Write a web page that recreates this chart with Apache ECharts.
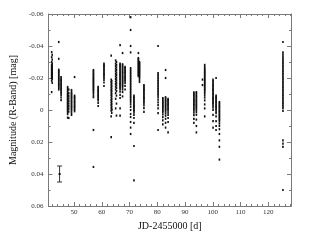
<!DOCTYPE html>
<html><head><meta charset="utf-8">
<script src="https://cdn.jsdelivr.net/npm/echarts@6/dist/echarts.min.js"></script>
<style>html,body{margin:0;padding:0;background:#fff}#c{width:314px;height:243px}</style>
</head><body><div id="c"></div>
<script>
// Each entry: [JD-2455000, [magnitudes]]
const nights41to51 = [
  [41.95, [-0.0362,-0.0330,-0.0300,-0.0282,-0.0270,-0.0260,-0.0250,-0.0240,-0.0230,-0.0220,-0.0210,-0.0200,-0.0183,-0.0112]],
  [42.15, [-0.0345,-0.0315,-0.0290,-0.0276,-0.0265,-0.0255,-0.0245,-0.0235,-0.0225,-0.0215,-0.0205,-0.0193,-0.0170]],
  [44.5,  [-0.0425,-0.0320,-0.0252,-0.0245,-0.0238,-0.0230,-0.0222,-0.0215,-0.0208,-0.0200,-0.0192,-0.0185,-0.0178,-0.0170,-0.0162,-0.0155,-0.0147,-0.0138,-0.0128]],
  [45.35, [-0.0205,-0.0196,-0.0188,-0.0180,-0.0172,-0.0164,-0.0156,-0.0148,-0.0140,-0.0132,-0.0124,-0.0115,-0.0105,-0.0093,-0.0078,-0.0062]],
  [47.7,  [-0.0144,-0.0132,-0.0120,-0.0110,-0.0100,-0.0092,-0.0084,-0.0076,-0.0068,-0.0060,-0.0052,-0.0044,-0.0036,-0.0028,-0.0020,-0.0012,-0.0004,0.0004,0.0014,0.0026,0.0048]],
  [48.1,  [-0.0128,-0.0105,-0.0088,-0.0072,-0.0056,-0.0040,-0.0024,-0.0008,0.0010,0.0050]],
  [49.1,  [-0.0125,-0.0115,-0.0106,-0.0098,-0.0090,-0.0082,-0.0074,-0.0066,-0.0058,-0.0050,-0.0042,-0.0034,-0.0026,-0.0018,-0.0010,-0.0002,0.0008,0.0020,0.0031]],
  [50.2,  [-0.0206,-0.0090,-0.0082,-0.0074,-0.0066,-0.0058,-0.0050,-0.0042,-0.0034,-0.0026,-0.0018,-0.0010,-0.0002,0.0008]]
];
const nights56to61 = [
  [57.0,  [-0.0250,-0.0242,-0.0234,-0.0226,-0.0218,-0.0210,-0.0203,-0.0196,-0.0189,-0.0182,-0.0175,-0.0168,-0.0161,-0.0154,-0.0147,-0.0140,-0.0132,-0.0124,-0.0115,-0.0105,-0.0092,-0.0080,0.0125,0.0356]],
  [58.7,  [-0.0144,-0.0135,-0.0127,-0.0119,-0.0111,-0.0103,-0.0095,-0.0087,-0.0079,-0.0070,-0.0060,-0.0045,-0.0025]],
  [60.8,  [-0.0290,-0.0282,-0.0274,-0.0266,-0.0258,-0.0250,-0.0242,-0.0234,-0.0226,-0.0218,-0.0210,-0.0200,-0.0188,-0.0172,-0.0150]]
];
const nights63to69 = [
  [63.4,  [-0.0340,-0.0190,-0.0174,-0.0158,-0.0142,-0.0126,-0.0110,-0.0094,-0.0078,-0.0062,-0.0046,-0.0030,-0.0014,0.0004,0.0040,0.0170]],
  [63.6,  [-0.0182,-0.0166,-0.0150,-0.0134,-0.0118,-0.0102,-0.0086,-0.0070,-0.0054,-0.0038,-0.0022,-0.0006,0.0018,0.0000]],
  [65.0,  [-0.0310,-0.0290,-0.0274,-0.0258,-0.0242,-0.0226,-0.0210,-0.0194,-0.0178,-0.0162,-0.0146,-0.0128,-0.0105,-0.0070,-0.0010]],
  [65.3,  [-0.0300,-0.0282,-0.0266,-0.0250,-0.0234,-0.0218,-0.0202,-0.0186,-0.0170,-0.0154,-0.0138,-0.0118,-0.0090,-0.0040,0.0035]],
  [66.6,  [-0.0406,-0.0290,-0.0282,-0.0274,-0.0266,-0.0258,-0.0250,-0.0242,-0.0234,-0.0226,-0.0218,-0.0210,-0.0202,-0.0194,-0.0186,-0.0178,-0.0170,-0.0162,-0.0154,-0.0146,-0.0138,-0.0128,-0.0115,-0.0095,-0.0075,-0.0010,0.0035]],
  [67.5,  [-0.0356,-0.0286,-0.0278,-0.0270,-0.0262,-0.0254,-0.0246,-0.0238,-0.0230,-0.0222,-0.0214,-0.0206,-0.0198,-0.0190,-0.0182,-0.0174,-0.0166,-0.0158,-0.0150,-0.0140,-0.0128,-0.0112,-0.0085]],
  [68.4,  [-0.0270,-0.0262,-0.0254,-0.0246,-0.0238,-0.0230,-0.0222,-0.0214,-0.0206,-0.0198,-0.0190,-0.0180,-0.0168,-0.0150,-0.0128]]
];
const nights70to76 = [
  [70.4,  [-0.0580,-0.0500,-0.0400,-0.0360,-0.0262,-0.0252,-0.0242,-0.0232,-0.0222,-0.0212,-0.0202,-0.0192,-0.0182,-0.0172,-0.0162,-0.0152,-0.0142,-0.0132,-0.0122,-0.0112,-0.0102,-0.0092,-0.0082,-0.0072,-0.0062,-0.0050,-0.0036,-0.0020,0.0000,0.0025,0.0044,0.0075,0.0110,0.0150]],
  [71.6,  [-0.0090,-0.0082,-0.0074,-0.0066,-0.0058,-0.0050,-0.0042,-0.0034,-0.0026,-0.0018,-0.0010,-0.0002,0.0006,0.0016,0.0030,0.0050,0.0080,0.0225,0.0440]],
  [73.2,  [-0.0356,-0.0325,-0.0318,-0.0311,-0.0304,-0.0297,-0.0290,-0.0283,-0.0276,-0.0269,-0.0262,-0.0255,-0.0248,-0.0241,-0.0234,-0.0227,-0.0220,-0.0212]],
  [73.6,  [-0.0300,-0.0293,-0.0286,-0.0279,-0.0272,-0.0265,-0.0258,-0.0251,-0.0244,-0.0237,-0.0230,-0.0223,-0.0216,-0.0209,-0.0200,-0.0188,-0.0175]],
  [75.2,  [-0.0156,-0.0148,-0.0140,-0.0132,-0.0124,-0.0116,-0.0108,-0.0100,-0.0092,-0.0084,-0.0076,-0.0068,-0.0060,-0.0050,-0.0040,-0.0028,-0.0012,0.0012]]
];
const nights80to85 = [
  [80.3,  [-0.0400,-0.0230,-0.0220,-0.0210,-0.0200,-0.0190,-0.0180,-0.0170,-0.0160,-0.0150,-0.0140,-0.0130,-0.0120,-0.0110,-0.0100,-0.0090,-0.0078,-0.0064,-0.0048,-0.0030,-0.0010,0.0020,0.0125]],
  [82.0,  [-0.0075,-0.0067,-0.0059,-0.0051,-0.0043,-0.0035,-0.0027,-0.0019,-0.0011,-0.0003,0.0005,0.0015,0.0028,0.0045,0.0065,0.0090]],
  [83.0,  [-0.0250,-0.0200,-0.0080,-0.0072,-0.0064,-0.0056,-0.0048,-0.0040,-0.0032,-0.0024,-0.0016,-0.0008,0.0000,0.0010,0.0022,0.0036,0.0055,0.0080,0.0110]],
  [83.9,  [-0.0070,-0.0062,-0.0054,-0.0046,-0.0038,-0.0030,-0.0022,-0.0014,-0.0006,0.0004,0.0016,0.0030,0.0050,0.0075,0.0140]]
];
const nights92to103 = [
  [93.2,  [-0.0110,-0.0102,-0.0094,-0.0086,-0.0078,-0.0070,-0.0062,-0.0054,-0.0046,-0.0038,-0.0030,-0.0022,-0.0014,-0.0006,0.0004,0.0016,0.0032,0.0055,0.0080]],
  [94.1,  [-0.0112,-0.0104,-0.0096,-0.0088,-0.0080,-0.0072,-0.0064,-0.0056,-0.0048,-0.0040,-0.0032,-0.0024,-0.0016,-0.0008,0.0002,0.0014,0.0030,0.0060,0.0100,0.0140]],
  [96.3,  [-0.0190,-0.0156]],
  [97.1,  [-0.0282,-0.0270,-0.0260,-0.0252,-0.0245,-0.0238,-0.0231,-0.0224,-0.0217,-0.0210,-0.0203,-0.0196,-0.0189,-0.0182,-0.0175,-0.0168,-0.0161,-0.0154,-0.0147,-0.0140,-0.0132,-0.0124,-0.0115,-0.0105,-0.0092,-0.0078,-0.0060,-0.0035,-0.0010,0.0040]],
  [100.1, [-0.0190,-0.0180,-0.0172,-0.0164,-0.0156,-0.0148,-0.0140,-0.0132,-0.0124,-0.0116,-0.0108,-0.0100,-0.0092,-0.0084,-0.0076,-0.0068,-0.0060,-0.0052,-0.0044,-0.0036,-0.0026,-0.0014,0.0000,0.0030,0.0070,0.0110]],
  [101.2, [-0.0200,-0.0090,-0.0082,-0.0074,-0.0066,-0.0058,-0.0050,-0.0042,-0.0034,-0.0026,-0.0018,-0.0010,-0.0002,0.0008,0.0020,0.0040,0.0070,0.0100,0.0125]],
  [102.4, [-0.0050,-0.0042,-0.0034,-0.0026,-0.0018,-0.0010,-0.0002,0.0006,0.0014,0.0022,0.0030,0.0038,0.0046,0.0054,0.0062,0.0072,0.0085,0.0100,0.0120,0.0150,0.0190,0.0230,0.0310]]
];
const nights125 = [
  [125.3, [-0.0425,-0.0360,-0.0348,-0.0336,-0.0324,-0.0314,-0.0304,-0.0294,-0.0284,-0.0274,-0.0264,-0.0254,-0.0244,-0.0234,-0.0224,-0.0214,-0.0204,-0.0194,-0.0184,-0.0174,-0.0164,-0.0154,-0.0144,-0.0134,-0.0124,-0.0114,-0.0104,-0.0094,-0.0084,-0.0074,-0.0064,-0.0054,-0.0044,-0.0034,-0.0024,-0.0012,0.0005,0.0190,0.0210,0.0230,0.0500]]
];
// typical error bar: [JD, mag, error]
const errorBar = [[44.8, 0.040, 0.005]];
const xMajorTicks = [50, 60, 70, 80, 90, 100, 110, 120];
const xMinorTicks = [42,44,46,48,52,54,56,58,62,64,66,68,72,74,76,78,82,84,86,88,92,94,96,98,102,104,106,108,112,114,116,118,122,124,126,128];

const allNights = [].concat(nights41to51, nights56to61, nights63to69, nights70to76, nights80to85, nights92to103, nights125);
const points = [];
allNights.forEach(function (n) { n[1].forEach(function (m) { points.push([n[0], m]); }); });

const font = 'Liberation Serif';
const axisColor = '#7a7a7a';
const X_MIN = 40.8, X_MAX = 128.2;

function xAx(pos, ticks, len, showLabel, extra) {
  return Object.assign({
    type: 'value', position: pos, min: X_MIN, max: X_MAX,
    axisLine: { show: true, onZero: false, lineStyle: { color: axisColor, width: 1 } },
    axisTick: { show: true, inside: true, length: len, customValues: ticks, lineStyle: { color: axisColor } },
    axisLabel: { show: showLabel, customValues: ticks, fontFamily: font, fontSize: 7, color: '#333', margin: 3 },
    splitLine: { show: false }
  }, extra || {});
}
function yAx(pos, showLabel, extra) {
  return Object.assign({
    type: 'value', position: pos, min: -0.06, max: 0.06, interval: 0.02, inverse: true,
    axisLine: { show: true, onZero: false, lineStyle: { color: axisColor, width: 1 } },
    axisTick: { show: true, inside: true, length: 4, lineStyle: { color: axisColor } },
    minorTick: { show: true, splitNumber: 2, length: 2, lineStyle: { color: axisColor } },
    axisLabel: { show: showLabel, fontFamily: font, fontSize: 7, color: '#333', margin: 5 },
    splitLine: { show: false }, minorSplitLine: { show: false }
  }, extra || {});
}

const chart = echarts.init(document.getElementById('c'), null, { renderer: 'canvas' });
chart.setOption({
  animation: false,
  backgroundColor: '#fff',
  grid: { left: 36, right: 23, top: 14, bottom: 37, containLabel: false },
  xAxis: [
    xAx('bottom', xMajorTicks, 4, true, { name: 'JD-2455000 [d]', nameLocation: 'middle', nameGap: 10,
      nameTextStyle: { fontFamily: font, fontSize: 10, color: '#111', verticalAlign: 'top' } }),
    xAx('bottom', xMinorTicks, 2, false),
    xAx('top', xMajorTicks, 4, false),
    xAx('top', xMinorTicks, 2, false)
  ],
  yAxis: [
    yAx('left', true, { name: 'Magnitude (R-Band) [mag]', nameLocation: 'middle', nameGap: 20, nameRotate: 90,
      nameTextStyle: { fontFamily: font, fontSize: 10, color: '#111' } }),
    yAx('right', false)
  ],
  series: [
    {
      type: 'scatter', xAxisIndex: 0, yAxisIndex: 0, data: points,
      symbol: 'rect', symbolSize: [1.6, 2.2], itemStyle: { color: '#111', opacity: 1 }, silent: true
    },
    {
      type: 'custom', xAxisIndex: 0, yAxisIndex: 0, data: errorBar, silent: true,
      renderItem: function (params, api) {
        const x = api.value(0), y = api.value(1), e = api.value(2);
        const top = api.coord([x, y - e]);
        const bot = api.coord([x, y + e]);
        const mid = api.coord([x, y]);
        const cap = 2.5;
        const st = { stroke: '#333', lineWidth: 1 };
        return { type: 'group', children: [
          { type: 'line', shape: { x1: top[0], y1: top[1], x2: bot[0], y2: bot[1] }, style: st },
          { type: 'line', shape: { x1: top[0] - cap, y1: top[1], x2: top[0] + cap, y2: top[1] }, style: st },
          { type: 'line', shape: { x1: bot[0] - cap, y1: bot[1], x2: bot[0] + cap, y2: bot[1] }, style: st },
          { type: 'rect', shape: { x: mid[0] - 1, y: mid[1] - 1, width: 2, height: 2 }, style: { fill: '#111' } }
        ] };
      }
    }
  ]
});
</script></body></html>
